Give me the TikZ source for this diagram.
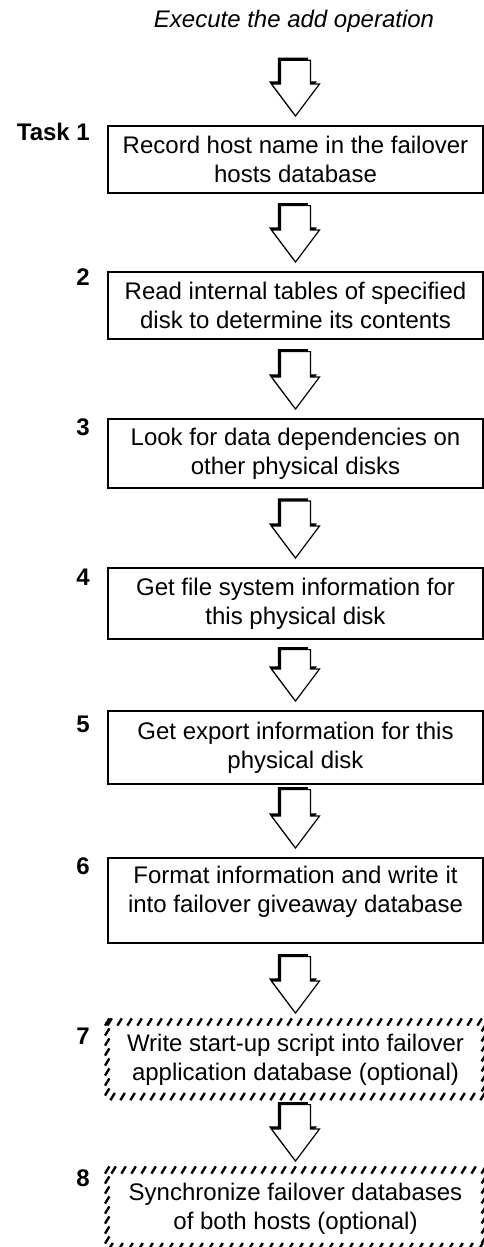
\documentclass[tikz,border=0pt]{standalone}
\usepackage{fontspec}
\setmainfont{Liberation Sans}
\usetikzlibrary{calc,decorations.markings}
\newcommand{\blockarr}[3][12]{%
  \fill[black] let \p1=(#2.south), \p2=(#3.north) in
    (\x2-17.6pt,\y1-#1pt+2.6pt) -- (\x2+12.4pt,\y1-#1pt+2.6pt) -- (\x2+12.4pt,\y2+43.6pt) -- (\x2+21.4pt,\y2+43.6pt)
    -- (\x2-2.6pt,\y2+11.6pt) -- (\x2-26.6pt,\y2+43.6pt) -- (\x2-17.6pt,\y2+43.6pt) -- cycle;
  \draw[blockarrow] let \p1=(#2.south), \p2=(#3.north) in
    (\x2-15pt,\y1-#1pt) -- (\x2+15pt,\y1-#1pt) -- (\x2+15pt,\y2+41pt) -- (\x2+24pt,\y2+41pt)
    -- (\x2,\y2+9pt) -- (\x2-24pt,\y2+41pt) -- (\x2-15pt,\y2+41pt) -- cycle;
}
\begin{document}
\begin{tikzpicture}[x=1pt,y=-1pt,
  stepbox/.style={draw, line width=1.6pt, rectangle, minimum width=375pt, inner xsep=4pt,
    inner ysep=9pt, align=center, anchor=north, font=\fontsize{24}{29}\selectfont},
  optbox/.style={stepbox, draw=none},
  steptext/.style={anchor=north, inner sep=0pt, align=center, font=\fontsize{24}{29}\selectfont},
  tasklbl/.style={anchor=base east, inner sep=0pt, font=\bfseries\fontsize{24}{29}\selectfont},
  blockarrow/.style={fill=white, draw=black, line width=1.2pt, line join=miter},
  hashline/.style={decorate, decoration={markings,
    mark=between positions 0 and 1 step 10pt with {\pgftransformresetnontranslations
      \draw[line width=2.4pt] (-2.2pt,-3.6pt) -- (2.2pt,3.6pt);}}},
]
\fill[white] (0,0) rectangle (484,1247);
\useasboundingbox (0,0) rectangle (484,1247);

\node[anchor=base, inner sep=0pt, font=\itshape\fontsize{24}{29}\selectfont] (title) at (294,28) {Execute the add operation};

\node[stepbox, minimum height=67pt] (b1) at (295.5,125) {Record host name in the failover\\hosts database};
\node[stepbox, minimum height=67pt] (b2) at (295.5,271) {Read internal tables of specified\\disk to determine its contents};
\node[stepbox, minimum height=69pt] (b3) at (295.5,418) {Look for data dependencies on\\other physical disks};
\node[stepbox, minimum height=71pt] (b4) at (295.5,567) {Get file system information for\\this physical disk};
\node[stepbox, minimum height=73pt] (b5) at (295.5,710) {Get export information for this\\physical disk};
\node[stepbox, minimum height=85pt] (b6) at (295.5,857) {};
\node[steptext] (t6) at ([yshift=-9pt]b6.north) {Format information and write it\\into failover giveaway database};
\node[optbox, minimum height=73pt] (b7) at (295.5,1022) {Write start-up script into failover\\application database (optional)};
\node[optbox, minimum height=75pt] (b8) at (295.5,1170) {Synchronize failover databases\\of both hosts (optional)};

\path[hashline] (b7.north west) rectangle (b7.south east);
\path[hashline] (b8.north west) rectangle (b8.south east);

\node[tasklbl] (l1) at (90,140) {Task 1};
\node[tasklbl] (l2) at (90,285) {2};
\node[tasklbl] (l3) at (90,435) {3};
\node[tasklbl] (l4) at (90,585) {4};
\node[tasklbl] (l5) at (90,732) {5};
\node[tasklbl] (l6) at (90,874) {6};
\node[tasklbl] (l7) at (90,1044) {7};
\node[tasklbl] (l8) at (90,1186) {8};

\blockarr[27]{title}{b1}
\blockarr{b1}{b2}
\blockarr{b2}{b3}
\blockarr{b3}{b4}
\blockarr[10]{b4}{b5}
\blockarr[5]{b5}{b6}
\blockarr[13]{b6}{b7}
\blockarr[8]{b7}{b8}
\end{tikzpicture}
\end{document}
